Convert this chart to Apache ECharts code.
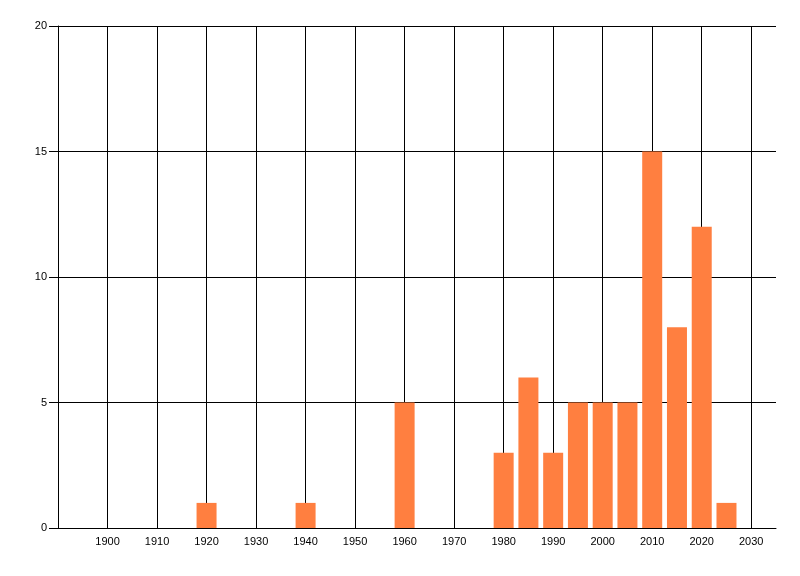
<!DOCTYPE html>
<html>
<head>
<meta charset="utf-8">
<script src="https://cdn.jsdelivr.net/npm/echarts@6/dist/echarts.min.js"></script>
<style>
html,body{margin:0;padding:0;background:#fff;}
#c{width:800px;height:576px;}
</style>
</head>
<body>
<div id="c"></div>
<script>
const years = [1920, 1940, 1960, 1980, 1985, 1990, 1995, 2000, 2005, 2010, 2015, 2020, 2025];
const counts = [1, 1, 5, 3, 6, 3, 5, 5, 5, 15, 8, 12, 1];
const xMin = 1890, xMax = 2035, xStep = 10;
const yMin = 0, yMax = 20, yStep = 5;

const chart = echarts.init(document.getElementById('c'), null, {renderer: 'canvas'});
const font = {fontFamily: 'Liberation Sans', fontSize: 11, color: '#000'};
chart.setOption({
  animation: false,
  backgroundColor: '#fff',
  grid: {left: 58, top: 26, right: 24, bottom: 48, containLabel: false},
  xAxis: {
    type: 'value',
    min: xMin, max: xMax, interval: xStep,
    axisLine: {show: true, lineStyle: {color: '#000', width: 1}},
    axisTick: {show: false},
    splitLine: {show: true, showMinLine: false, showMaxLine: false, lineStyle: {color: '#000', width: 1}},
    axisLabel: Object.assign({
      margin: 8,
      showMinLabel: false,
      showMaxLabel: false,
      formatter: v => (v === xMin || v === xMax) ? '' : String(v)
    }, font)
  },
  yAxis: {
    type: 'value',
    min: yMin, max: yMax, interval: yStep,
    axisLine: {show: true, lineStyle: {color: '#000', width: 1}},
    axisTick: {show: true, inside: false, length: 9, lineStyle: {color: '#000', width: 1}},
    splitLine: {show: true, showMinLine: false, lineStyle: {color: '#000', width: 1}},
    axisLabel: Object.assign({margin: 11}, font)
  },
  series: [{
    type: 'bar',
    data: years.map((y, i) => [y, counts[i]]),
    barWidth: 20,
    itemStyle: {color: '#FF7F40'}
  }]
});
</script>
</body>
</html>
